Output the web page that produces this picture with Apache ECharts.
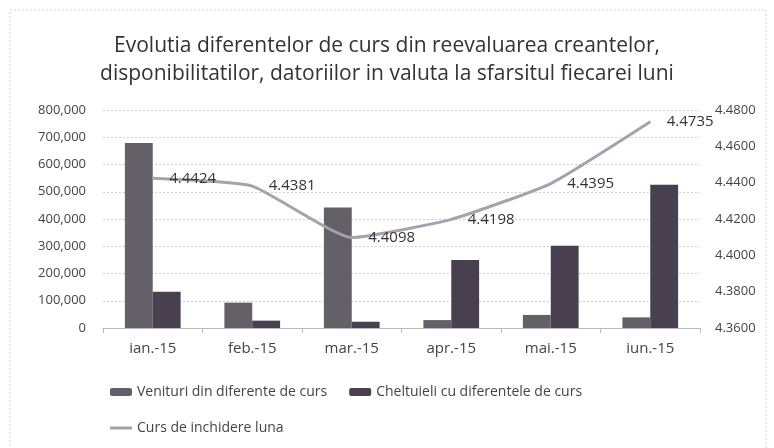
<!DOCTYPE html>
<html>
<head>
<meta charset="utf-8">
<script src="https://cdn.jsdelivr.net/npm/echarts@6/dist/echarts.min.js"></script>
<style>
  html, body {margin: 0; padding: 0; background: #fff;}
  #chart {width: 774px; height: 448px;}
</style>
</head>
<body>
<div id="chart"></div>
<script>
var months = ['ian.-15', 'feb.-15', 'mar.-15', 'apr.-15', 'mai.-15', 'iun.-15'];
var venituri = [679000, 93000, 442000, 29000, 48000, 39000];
var cheltuieli = [133000, 27000, 23000, 250000, 302000, 526000];
var curs = [4.4424, 4.4381, 4.4098, 4.4198, 4.4395, 4.4735];

var labels = [
  'Venituri din diferente de curs',
  'Cheltuieli cu diferentele de curs',
  'Curs de inchidere luna'
];

var font = '"Open Sans", Lato, sans-serif';
var chart = echarts.init(document.getElementById('chart'));

chart.setOption({
  animation: false,
  textStyle: {fontFamily: font},
  title: {
    text: 'Evolutia diferentelor de curs din reevaluarea creantelor,\ndisponibilitatilor, datoriilor in valuta la sfarsitul fiecarei luni',
    left: 'center',
    top: 27,
    textStyle: {fontSize: 21, fontWeight: 'normal', color: '#333', lineHeight: 28, fontFamily: font}
  },
  graphic: [{
    type: 'rect',
    shape: {x: 10, y: 10, width: 756, height: 440},
    style: {fill: 'none', stroke: '#cfcfcf', lineWidth: 1, lineDash: [2, 2]}
  }],
  grid: {left: 103, right: 74, top: 110, bottom: 120},
  legend: [
    {
      data: [labels[0], labels[1]],
      left: 105, top: 380,
      itemWidth: 22, itemHeight: 8, itemGap: 22,
      textStyle: {fontSize: 14, color: '#444', fontFamily: font}
    },
    {
      data: [{name: labels[2], icon: 'rect'}],
      left: 105, top: 416,
      itemWidth: 22, itemHeight: 3,
      textStyle: {fontSize: 14, color: '#444', fontFamily: font}
    }
  ],
  xAxis: [{
    type: 'category',
    data: months,
    axisLine: {lineStyle: {color: '#bbb'}},
    axisTick: {show: true, lineStyle: {color: '#bbb'}},
    axisLabel: {fontSize: 15, color: '#444', margin: 13}
  }],
  yAxis: [
    {
      type: 'value', min: 0, max: 800000, interval: 100000,
      axisLabel: {
        fontSize: 13, color: '#444', margin: 17,
        formatter: function (v) { return v.toLocaleString('en-US'); }
      },
      splitLine: {lineStyle: {color: '#d0d0d0', type: [2, 2]}}
    },
    {
      type: 'value', min: 4.36, max: 4.48, interval: 0.02,
      axisLabel: {
        fontSize: 13, color: '#444', margin: 15,
        formatter: function (v) { return v.toFixed(4); }
      },
      splitLine: {show: false}
    }
  ],
  series: [
    {name: labels[0], type: 'bar', data: venituri, barGap: '0%', barCategoryGap: '44%',
     itemStyle: {color: '#646068'}},
    {name: labels[1], type: 'bar', data: cheltuieli,
     itemStyle: {color: '#48404f'}},
    {name: labels[2], type: 'line', yAxisIndex: 1, data: curs, smooth: 0.15,
     symbol: 'circle', symbolSize: 1, showSymbol: true,
     lineStyle: {color: '#a99fb0', width: 3}, itemStyle: {color: '#a99fb0'},
     label: {
       show: true, position: 'right', distance: 16, fontSize: 15, color: '#333',
       formatter: function (p) { return p.value.toFixed(4); }
     }}
  ]
});
</script>
</body>
</html>
